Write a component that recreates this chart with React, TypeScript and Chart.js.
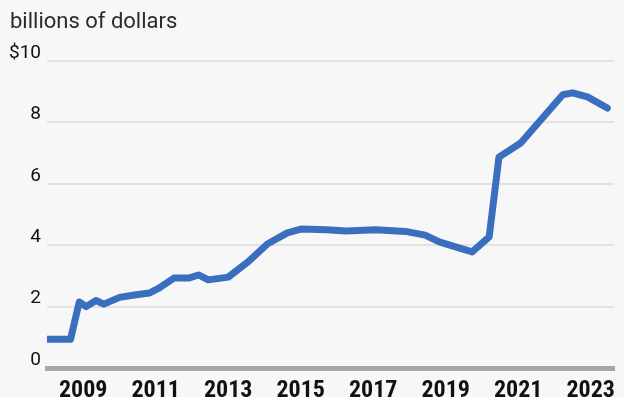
import React, { useEffect, useRef } from "react";
import { Chart, registerables } from "chart.js";

Chart.register(...registerables);

const unitLabel = "billions of dollars";

const periods = [
  2008.0, 2008.65, 2008.89, 2009.08, 2009.35, 2009.57, 2010.0, 2010.41, 2010.82,
  2011.09, 2011.5, 2011.91, 2012.18, 2012.45, 2013.0, 2013.54, 2014.08, 2014.63,
  2015.03, 2015.71, 2016.26, 2017.07, 2017.89, 2018.43, 2018.84, 2019.73, 2020.2,
  2020.47, 2021.07, 2022.23, 2022.5, 2022.91, 2023.46,
];

const spending = [
  0.94, 0.94, 2.15, 2.0, 2.2, 2.08, 2.3, 2.38, 2.44,
  2.6, 2.93, 2.93, 3.03, 2.87, 2.96, 3.45, 4.04, 4.4,
  4.53, 4.5, 4.46, 4.5, 4.45, 4.33, 4.1, 3.78, 4.27,
  6.87, 7.33, 8.9, 8.96, 8.83, 8.47,
];

const xTickYears = [2009, 2011, 2013, 2015, 2017, 2019, 2021, 2023];
const yTickValues = [0, 2, 4, 6, 8, 10];

export default function App() {
  const ref = useRef<HTMLCanvasElement>(null);

  useEffect(() => {
    if (!ref.current) return;
    const titlePlugin = {
      id: "unitTitle",
      afterDraw(chart: any) {
        const ctx = chart.ctx;
        ctx.save();
        ctx.font = "22px Roboto";
        ctx.fillStyle = "#2b2b2b";
        ctx.textAlign = "left";
        ctx.textBaseline = "middle";
        ctx.fillText(unitLabel, 10, 22);
        ctx.restore();
      },
    };

    const chart = new Chart(ref.current, {
      type: "line",
      data: {
        datasets: [
          {
            data: periods.map((x, i) => ({ x, y: spending[i] })),
            borderColor: "#3a6fbf",
            borderWidth: 7,
            pointRadius: 0,
            borderJoinStyle: "round",
            borderCapStyle: "round",
            tension: 0,
          },
        ],
      },
      options: {
        animation: false,
        responsive: false,
        maintainAspectRatio: false,
        layout: { padding: { top: 61, right: 2, left: 0, bottom: 0 } },
        plugins: {
          legend: { display: false },
          tooltip: { enabled: false },
        },
        scales: {
          x: {
            type: "linear",
            min: 2008,
            max: 2023.65,
            afterBuildTicks: (s: any) => {
              s.ticks = xTickYears.map((v) => ({ value: v }));
            },
            afterFit: (s: any) => {
              s.height = 29;
            },
            grid: { display: false, drawTicks: false },
            border: { display: true, color: "#aaa6a1", width: 5 },
            ticks: {
              padding: 9,
              maxRotation: 0,
              autoSkip: false,
              color: "#111111",
              font: { family: "'Liberation Sans Narrow', 'Roboto Condensed', Roboto", size: 24, weight: "bold" },
              callback: (v: any) => String(v),
            },
          },
          y: {
            min: 0,
            max: 10,
            afterBuildTicks: (s: any) => {
              s.ticks = yTickValues.map((v) => ({ value: v }));
            },
            afterFit: (s: any) => {
              s.width = 47;
            },
            border: { display: false },
            grid: {
              drawTicks: false,
              lineWidth: 2,
              color: (c: any) => (c.tick && c.tick.value === 0 ? "rgba(0,0,0,0)" : "#e5e2de"),
            },
            ticks: {
              padding: 6,
              labelOffset: -8,
              color: "#111111",
              font: { family: "Roboto", size: 19 },
              callback: (v: any) => (v === 10 ? "$10" : String(v)),
            },
          },
        },
      },
      plugins: [titlePlugin],
    } as any);

    return () => chart.destroy();
  }, []);

  return (
    <div
      style={{
        position: "absolute",
        left: 0,
        top: 0,
        width: 624,
        height: 397,
        background: "#f7f7f7",
      }}
    >
      <canvas ref={ref} width={624} height={397} style={{ display: "block" }} />
    </div>
  );
}
